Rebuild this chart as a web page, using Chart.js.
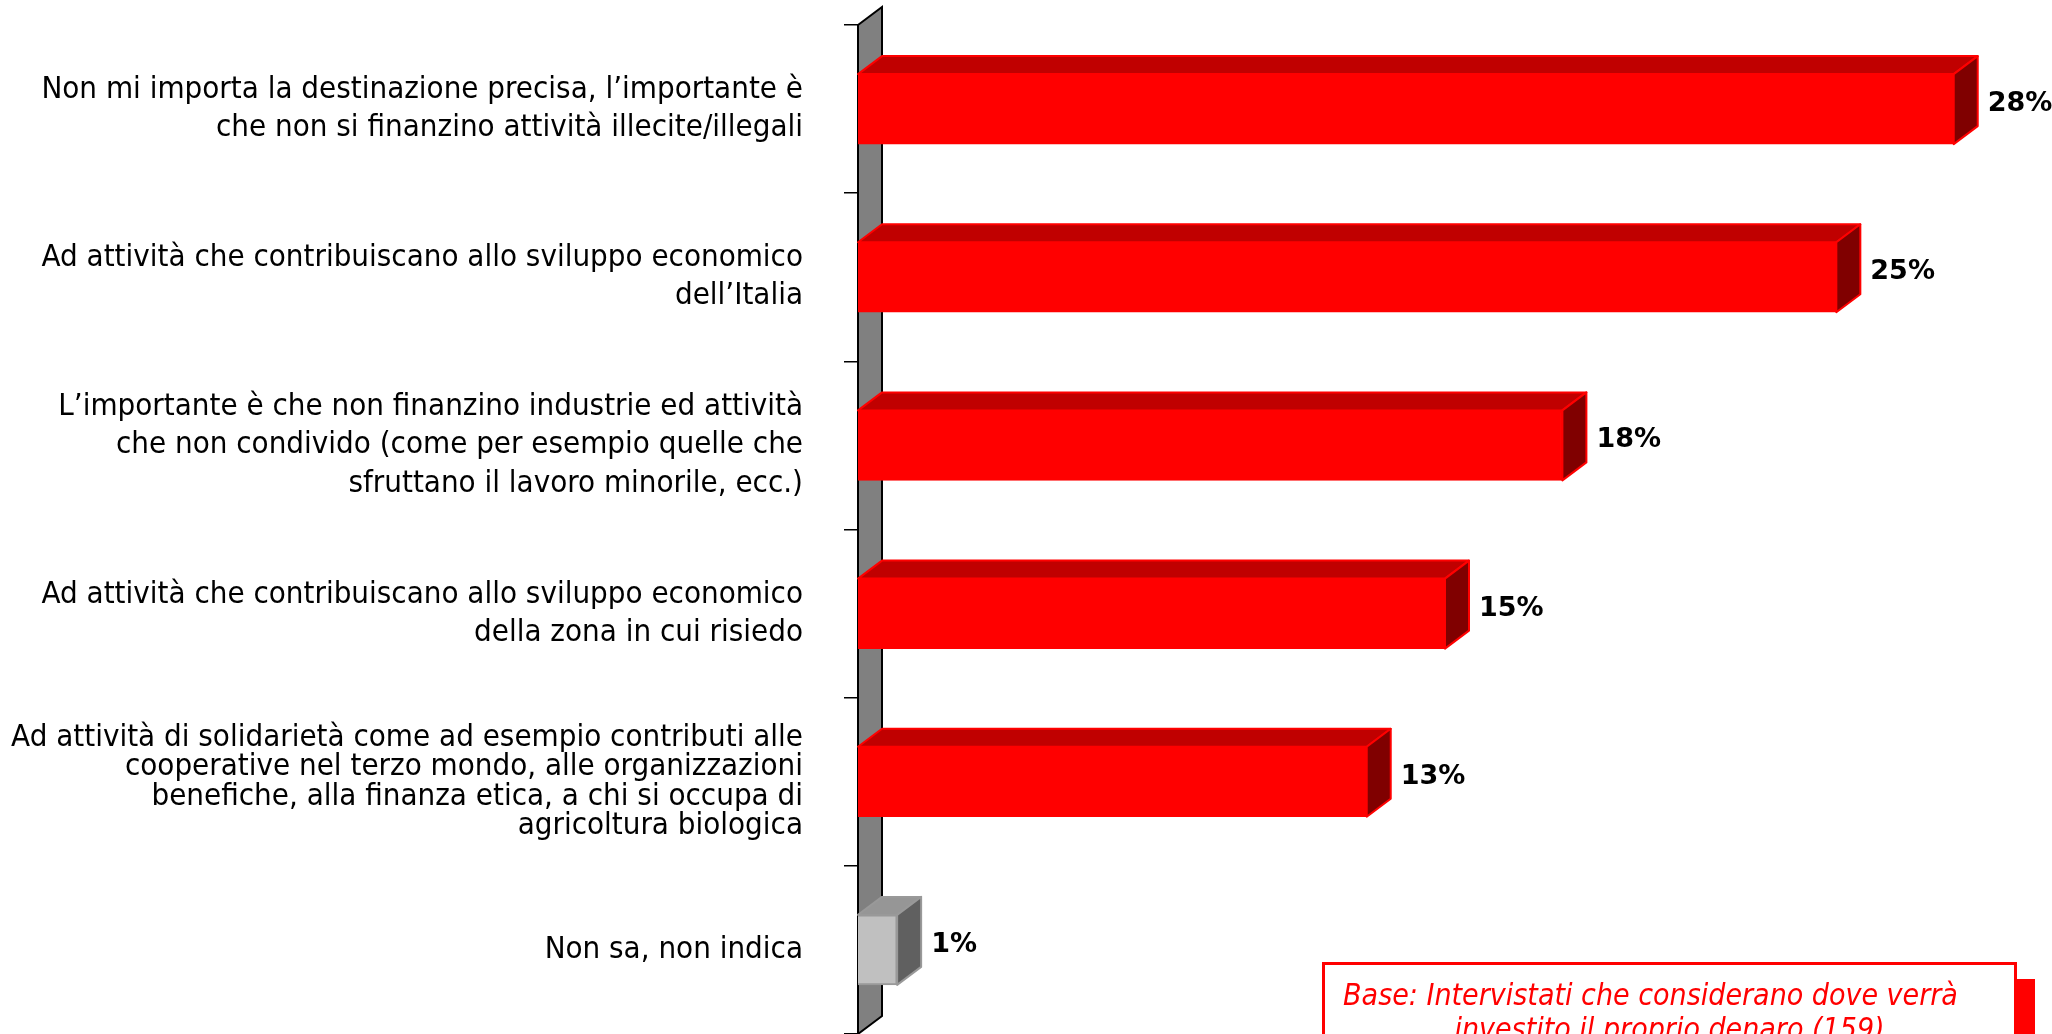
<!DOCTYPE html>
<html>
<head>
<meta charset="utf-8">
<script src="https://cdn.jsdelivr.net/npm/chart.js@4.4.0/dist/chart.umd.min.js"></script>
<style>
  html, body { margin: 0; padding: 0; background: #fff; overflow: hidden; }
  #wrap { position: relative; width: 2052px; height: 1034px; }
  #base-note {
    position: absolute; left: 1322px; top: 962px; width: 695px; height: 140px;
    border: 3px solid #ff0000; box-shadow: 18px 17px 0 0 #ff0000; background: #fff;
    color: #ff0000; font: italic 30px 'DejaVu Sans Condensed', 'DejaVu Sans', sans-serif;
    text-align: center; line-height: 34px; padding-top: 13px; box-sizing: border-box;
  }
  #base-note .first { margin-right: 38px; }
</style>
</head>
<body>
<div id="wrap">
  <canvas id="chart" width="2052" height="1034"></canvas>
  <div id="base-note"><span class="first">Base: Intervistati che considerano dove verrà</span><br>investito il proprio denaro (159)</div>
</div>
<script>
const categories = [
  ['Non mi importa la destinazione precisa, l’importante è', 'che non si finanzino attività illecite/illegali'],
  ['Ad attività che contribuiscano allo sviluppo economico', 'dell’Italia'],
  ['L’importante è che non finanzino industrie ed attività', 'che non condivido (come per esempio quelle che', 'sfruttano il lavoro minorile, ecc.)'],
  ['Ad attività che contribuiscano allo sviluppo economico', 'della zona in cui risiedo'],
  ['Ad attività di solidarietà come ad esempio contributi alle', 'cooperative nel terzo mondo, alle organizzazioni', 'benefiche, alla finanza etica, a chi si occupa di', 'agricoltura biologica'],
  ['Non sa, non indica']
];
const values = [28, 25, 18, 15, 13, 1];
const valueLabels = ['28%', '25%', '18%', '15%', '13%', '1%'];

// depth of the 3d effect (px)
const DX = 24, DY = -18;
const faces = {
  red: { front: '#ff0000', top: '#c00000', side: '#800000', edge: '#ff0000' },
  grey: { front: '#c0c0c0', top: '#969696', side: '#606060', edge: '#999999' }
};
// last answer ("non sa") is drawn in grey
function paletteFor(i) {
  return i === categories.length - 1 ? faces.grey : faces.red;
}

const bar3d = {
  id: 'bar3d',
  beforeDatasetsDraw(chart) {
    // grey side wall behind the category axis
    const { ctx, chartArea: a } = chart;
    ctx.save();
    ctx.beginPath();
    ctx.moveTo(a.left, a.top);
    ctx.lineTo(a.left + DX, a.top + DY);
    ctx.lineTo(a.left + DX, a.bottom + DY);
    ctx.lineTo(a.left, a.bottom);
    ctx.closePath();
    ctx.fillStyle = '#808080';
    ctx.fill();
    ctx.lineWidth = 2;
    ctx.strokeStyle = '#000';
    ctx.stroke();
    ctx.restore();
  },
  afterDatasetsDraw(chart) {
    const ctx = chart.ctx;
    chart.getDatasetMeta(0).data.forEach((bar, i) => {
      const p = paletteFor(i);
      const { x, y, base, height } = bar.getProps(['x', 'y', 'base', 'height'], true);
      const top = y - height / 2, bottom = y + height / 2;
      ctx.save();
      ctx.lineWidth = 2;
      ctx.lineJoin = 'round';
      ctx.strokeStyle = p.edge;
      // top face
      ctx.beginPath();
      ctx.moveTo(base, top);
      ctx.lineTo(x, top);
      ctx.lineTo(x + DX, top + DY);
      ctx.lineTo(base + DX, top + DY);
      ctx.closePath();
      ctx.fillStyle = p.top;
      ctx.fill();
      ctx.stroke();
      // side face
      ctx.beginPath();
      ctx.moveTo(x, top);
      ctx.lineTo(x + DX, top + DY);
      ctx.lineTo(x + DX, bottom + DY);
      ctx.lineTo(x, bottom);
      ctx.closePath();
      ctx.fillStyle = p.side;
      ctx.fill();
      ctx.stroke();
      // value label
      ctx.fillStyle = '#000';
      ctx.font = "bold 27px 'DejaVu Sans'";
      ctx.textAlign = 'left';
      ctx.textBaseline = 'middle';
      ctx.fillText(valueLabels[i], x + DX + 10, y + DY / 2 + 4);
      ctx.restore();
    });
  }
};

new Chart(document.getElementById('chart'), {
  type: 'bar',
  data: {
    labels: categories,
    datasets: [{
      data: values,
      backgroundColor: ctx => paletteFor(ctx.dataIndex).front,
      borderColor: ctx => paletteFor(ctx.dataIndex).edge,
      borderWidth: 2,
      barThickness: 70
    }]
  },
  options: {
    indexAxis: 'y',
    responsive: false,
    animation: false,
    layout: { padding: { top: 25, right: 20, bottom: 0, left: 0 } },
    plugins: { legend: { display: false }, tooltip: { enabled: false } },
    scales: {
      x: { display: false, min: 0, max: 30 },
      y: {
        afterFit(scale) {
          scale.width = 858;
          // long labels may run past the plot edges, don't shrink the plot for them
          scale.paddingTop = 0;
          scale.paddingBottom = 0;
        },
        border: { display: true, color: '#000', width: 2 },
        grid: { drawOnChartArea: false, drawTicks: true, tickLength: 14, color: '#000', lineWidth: 1.5 },
        ticks: {
          color: '#000',
          padding: 41,
          font: ctx => ({
            family: "'DejaVu Sans Condensed', 'DejaVu Sans', sans-serif",
            size: 31,
            lineHeight: ctx.index === 4 ? 0.95 : 1.23
          })
        }
      }
    }
  },
  plugins: [bar3d]
});
</script>
</body>
</html>
